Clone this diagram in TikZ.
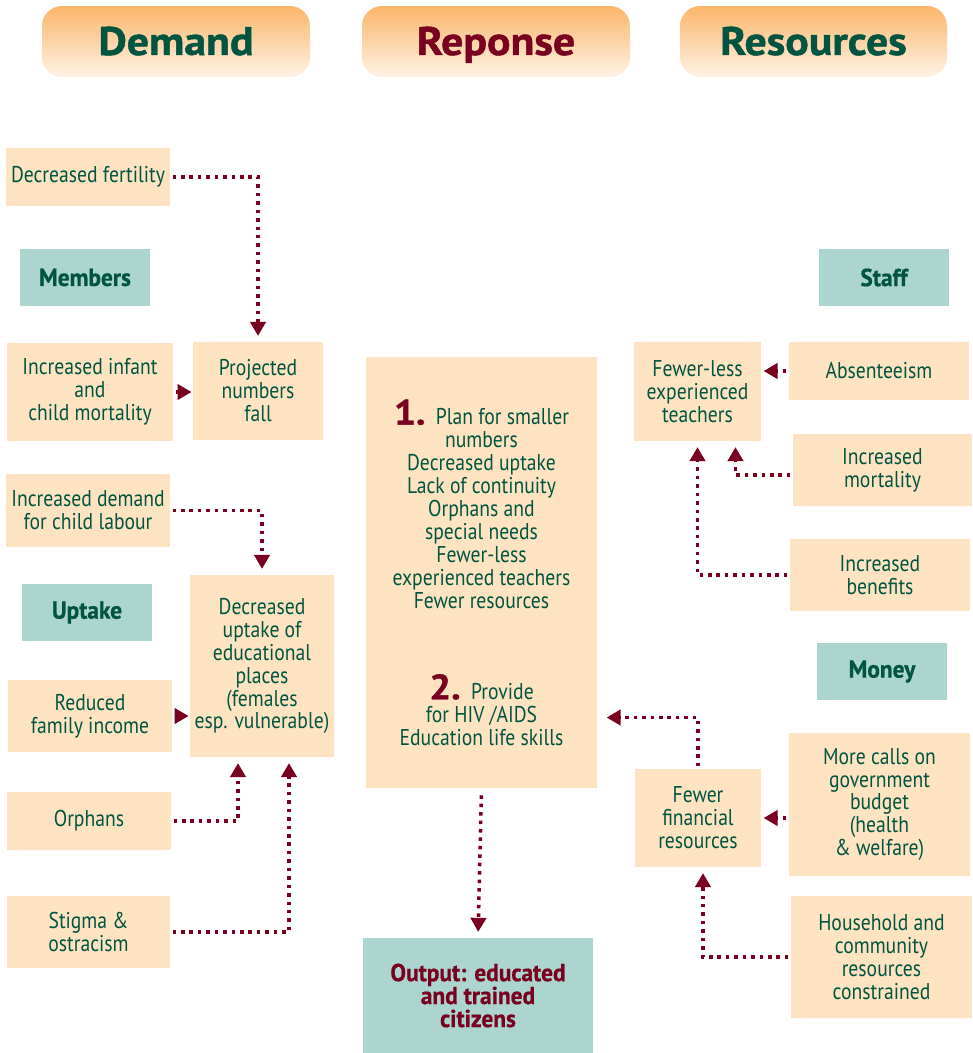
\documentclass[tikz,border=0pt]{standalone}
\usepackage{fontspec}
\setmainfont[FakeStretch=0.86]{PT Sans}
\newfontfamily\hdrfont[FakeStretch=1.1,FakeBold=1.2]{PT Sans}
\newfontfamily\tagfont[FakeStretch=0.95,FakeBold=0.6]{PT Sans}
\usetikzlibrary{arrows.meta,positioning}
\definecolor{dkgreen}{RGB}{0,84,64}
\definecolor{dkred}{RGB}{122,0,32}
\definecolor{peach}{RGB}{253,227,193}
\definecolor{tagteal}{RGB}{171,213,206}
\definecolor{hdrtop}{RGB}{251,181,106}
\definecolor{hdrbot}{RGB}{255,243,230}
\newcommand{\numfont}{\hdrfont\fontsize{30}{20}\selectfont\bfseries\color{dkred}}

\begin{document}
\begin{tikzpicture}[x=0.3mm,y=-0.3mm,>={Triangle[length=12pt,width=13pt]},
    every node/.style={font=\fontsize{19.5}{19.6}\selectfont,text=dkgreen,align=center,inner sep=0pt},
    sz/.style 2 args={minimum width=#1*0.3mm,minimum height=#2*0.3mm},
    box node/.style={fill=peach},
    tag node/.style={fill=tagteal,font=\tagfont\fontsize{21}{19.6}\selectfont\bfseries},
    head node/.style={rounded corners=6mm,top color=hdrtop,bottom color=hdrbot,
                      text height=23pt,text depth=0pt,
                      font=\hdrfont\fontsize{34}{36}\selectfont\bfseries},
    link/.style={->,draw=dkred,line width=3pt,dash pattern=on 3pt off 4.2pt,
                 shorten <=2pt,shorten >=5pt}]

  \useasboundingbox (0,0) rectangle (972,1053);

  % headings
  \node[head node,sz={268}{71}] (22) at (176,41.5) {Demand};
  \node[head node,sz={268}{71},text=dkred] (23) at (496,41.5) {Reponse};
  \node[head node,sz={267}{71}] (24) at (813.5,41.5) {Resources};

  % demand
  \node[box node,sz={164}{58}] (1) at (88,177) {Decreased fertility};
  \node[tag node,sz={130}{57}] (2) at (85,277.5) {Members};
  \node[box node,sz={166}{98}] (3) at (90,392) {Increased infant\\and\\child mortality};
  \node[box node,sz={130}{98}] (4) at (258,391) {Projected\\numbers\\fall};
  \node[box node,sz={164}{73}] (5) at (88,510.5) {Increased demand\\for child labour};
  \node[tag node,sz={130}{57}] (6) at (87,612.5) {Uptake};
  \node[box node,sz={144}{182}] (7) at (262,666) {Decreased\\uptake of\\educational\\places\\(females\\esp. vulnerable)};
  \node[box node,sz={164}{72}] (8) at (90,716) {Reduced\\family income};
  \node[box node,sz={164}{58}] (9) at (89,821) {Orphans};
  \node[box node,sz={163}{72}] (10) at (88.5,932) {Stigma \&\\ostracism};

  % response
  \node[box node,sz={231}{431}] (11) at (481.5,572.5) {{\numfont 1.}\ \ Plan for smaller\\numbers\\Decreased uptake\\Lack of continuity\\Orphans and\\special needs\\Fewer-less\\experienced teachers\\Fewer resources\\[55pt]{\numfont 2.}\ \ Provide\\for HIV /AIDS\\Education life skills};
  \node[tag node,sz={230}{115},text=dkred] (12) at (478,995.5) {Output: educated\\and trained\\citizens};

  % resources
  \node[tag node,sz={130}{57}] (13) at (884,277.5) {Staff};
  \node[box node,sz={127}{99}] (14) at (697.5,391.5) {Fewer-less\\experienced\\teachers};
  \node[box node,sz={180}{58}] (15) at (879,371) {Absenteeism};
  \node[box node,sz={179}{72}] (16) at (882.5,470) {Increased\\mortality};
  \node[box node,sz={180}{72}] (17) at (880,575) {Increased\\benefits};
  \node[tag node,sz={130}{57}] (18) at (882,671.5) {Money};
  \node[box node,sz={126}{98}] (19) at (698,818) {Fewer\\financial\\resources};
  \node[box node,sz={181}{143}] (20) at (879.5,804.5) {More calls on\\government\\budget\\(health\\\& welfare)};
  \node[box node,sz={181}{122}] (21) at (881.5,957) {Household and\\community\\resources\\constrained};

  % links
  \draw[link] (1.east) -| (4.north);
  \draw[link,shorten >=1pt] (3.east) -- (3.east -| 4.west);
  \draw[link] (5.east) -| (7.north);
  \draw[link,shorten >=1pt] (8.east) -- (8.east -| 7.west);
  \draw[link] (9.east) -| ([shift={(-24,0)}]7.south);
  \draw[link] (10.east) -| ([shift={(27,0)}]7.south);
  \draw[link,shorten <=6pt] (11.south) -- (12.north);
  \draw[link,shorten >=8pt] (19.north) |- ([shift={(0,145)}]11.east);
  \draw[link,shorten >=2pt] (19.east -| 20.west) -- (19.east);
  \draw[link] (21.west) -| ([shift={(5,0)}]19.south);
  \draw[link,shorten >=2pt] (15.west) -- (15.west -| 14.east);
  \draw[link] ([shift={(0,5)}]16.west) -| ([shift={(38,0)}]14.south);
  \draw[link] (17.west) -| (14.south);
\end{tikzpicture}
\end{document}
